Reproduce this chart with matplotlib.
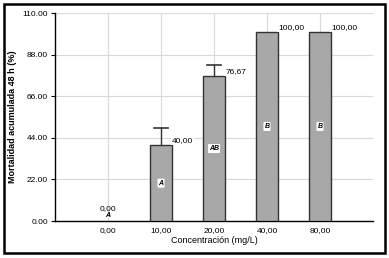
import matplotlib

matplotlib.use("Agg")
import matplotlib.pyplot as plt
from matplotlib.patches import Rectangle

categories = ["0,00", "10,00", "20,00", "40,00", "80,00"]
mortality = [0.0, 40.0, 76.67, 100.0, 100.0]
err_up = [0.0, 9.0, 6.0, 0.0, 0.0]
value_labels = ["0,00", "40,00", "76,67", "100,00", "100,00"]
letters = ["A", "A", "AB", "B", "B"]
y_ticks = [0, 22, 44, 66, 88, 110]

plt.rcParams["font.family"] = ["Liberation Sans", "DejaVu Sans"]

fig = plt.figure(figsize=(3.89, 2.58), dpi=100)
ax = fig.add_axes([55 / 389, 37 / 258, 318 / 389, 208 / 258])

x = list(range(len(categories)))
bar_x = [i for i in x if mortality[i] > 0]
bar_h = [mortality[i] for i in bar_x]
ax.bar(bar_x, bar_h, width=0.4, color="#a8a8a8", edgecolor="#333333", linewidth=1.0, zorder=3)
for i in x:
    if err_up[i] > 0:
        top = mortality[i] + err_up[i]
        ax.plot([i, i], [mortality[i], top], color="#333333", lw=1.0, zorder=4)
        ax.plot([i - 0.13, i + 0.13], [top, top], color="#333333", lw=1.2, zorder=4)

for i in x:
    if mortality[i] > 0:
        ax.text(i + 0.21, mortality[i] + 2.5, value_labels[i], fontsize=6, ha="left",
                va="center", zorder=5,
                bbox=dict(boxstyle="square,pad=0.1", fc="white", ec="none"))
        ax.text(i, mortality[i] / 2, letters[i], fontsize=5, ha="center", va="center",
                style="italic", fontweight="bold", zorder=5,
                bbox=dict(boxstyle="round,pad=0.15", fc="white", ec="none"))
    else:
        ax.text(i, 4.5, value_labels[i], fontsize=6, ha="center", va="bottom", zorder=5)
        ax.text(i, 1.0, letters[i], fontsize=5, ha="center", va="bottom",
                style="italic", fontweight="bold", zorder=5)

ax.set_xlim(-1, 5)
ax.set_ylim(0, 110)
ax.set_xticks(x)
ax.set_xticklabels(categories)
ax.set_yticks(y_ticks)
ax.set_yticklabels([f"{v:.2f}" for v in y_ticks])
ax.tick_params(labelsize=6, length=3, width=0.8, pad=2)
ax.tick_params(axis="x", length=0, pad=4)
ax.grid(True, color="#d9d9d9", lw=0.8, zorder=0)
ax.set_axisbelow(True)
for side in ["top", "right"]:
    ax.spines[side].set_visible(False)
ax.spines["left"].set_linewidth(1.0)
ax.spines["bottom"].set_linewidth(1.0)

ax.set_xlabel("Concentración (mg/L)", fontsize=6.5, labelpad=2)
ax.set_ylabel("Mortalidad acumulada 48 h (%)", fontsize=6.5, fontweight="bold")
ax.yaxis.set_label_coords(-0.12, 0.5)

fig.patches.append(Rectangle((4 / 389, 5 / 258), 381 / 389, 249 / 258, transform=fig.transFigure,
                             fill=False, ec="black", lw=1.8))

fig.savefig("out.png", dpi=100)
